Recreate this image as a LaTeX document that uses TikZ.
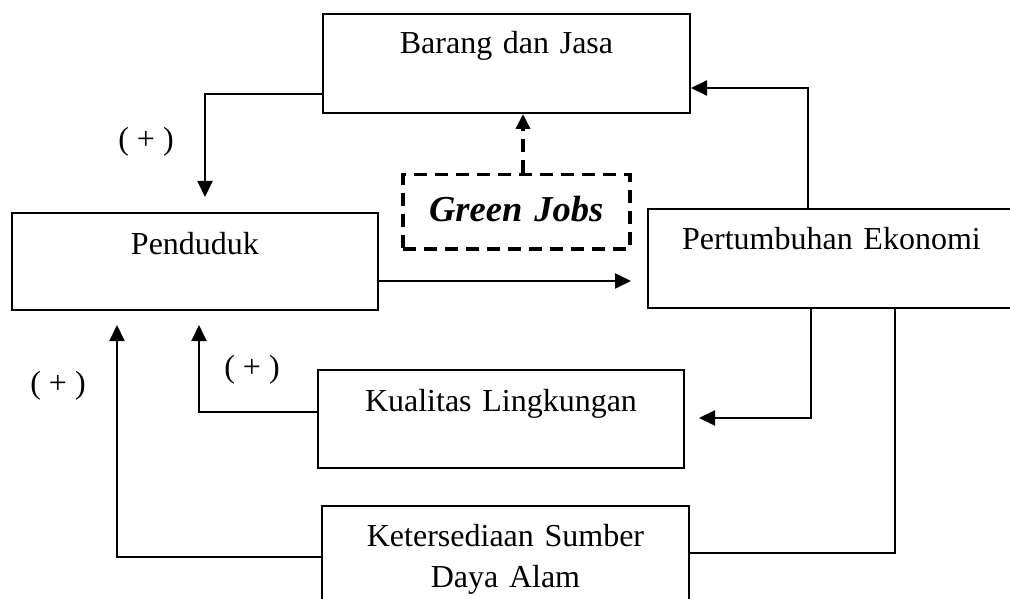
\documentclass[tikz,border=0pt]{standalone}
\usepackage{fontspec}
\setmainfont{Liberation Serif}
\usetikzlibrary{arrows.meta}
\begin{document}
\begin{tikzpicture}[x=1pt,y=-1pt,
  box/.style={draw, line width=2pt, inner sep=0pt, anchor=north west, align=center, font=\fontsize{32}{41}\selectfont},
  lnk/.style={line width=2pt},
  arr/.style={line width=2pt, -{Triangle[length=16pt,width=15pt]}},
  darr/.style={line width=3.5pt, dash pattern=on 13pt off 8pt, -{Triangle[length=15pt,width=14pt]}},
  lbl/.style={anchor=base, inner sep=0pt, font=\fontsize{32}{41}\selectfont}]
\useasboundingbox (0,0) rectangle (1010,599);
\clip (0,0) rectangle (1010,599);

\node[box, text width=367pt, text height=40pt, text depth=59pt] (bj) at (322,13) {Barang dan Jasa};
\node[box, text width=366pt, text height=41pt, text depth=56pt] (pd) at (11,212) {Penduduk};
\node[box, line width=3.5pt, dash pattern=on 13pt off 8pt, text width=227pt, text height=47pt, text depth=27pt, font=\fontsize{36.5}{44}\selectfont\bfseries\itshape] (gj) at (401,173) {Green Jobs};
\node[box, text width=367pt, text height=40pt, text depth=59pt] (pe) at (647,208) {Pertumbuhan Ekonomi};
\node[box, text width=366pt, text height=41pt, text depth=57pt] (kl) at (317,369) {Kualitas Lingkungan};
\node[box, text width=367pt, text height=40pt, text depth=58pt] (ks) at (321,505) {Ketersediaan Sumber\\Daya Alam};

\draw[arr, shorten >=15pt] (bj.west |- 0,94) -| (pd.north -| 205,0);
\draw[darr] (gj.north -| 523,0) -- (bj.south -| 523,0);
\draw[arr, shorten >=16pt] (pd.east |- 0,281) -- (pe.west |- 0,281);
\draw[arr] (pe.north -| 808,0) |- (bj.east |- 0,88);
\draw[arr, shorten >=14pt] (pe.south -| 811,0) |- (kl.east |- 0,418);
\draw[lnk] (pe.south -| 895,0) |- (ks.east |- 0,553);
\draw[arr, shorten >=14pt] (kl.west |- 0,412) -| (pd.south -| 199,0);
\draw[arr, shorten >=14pt] (ks.west |- 0,557) -| (pd.south -| 117,0);

\node[lbl] (l1) at (146,150) {( + )};
\node[lbl] (l2) at (252,377) {( + )};
\node[lbl] (l3) at (58,393) {( + )};
\end{tikzpicture}
\end{document}
